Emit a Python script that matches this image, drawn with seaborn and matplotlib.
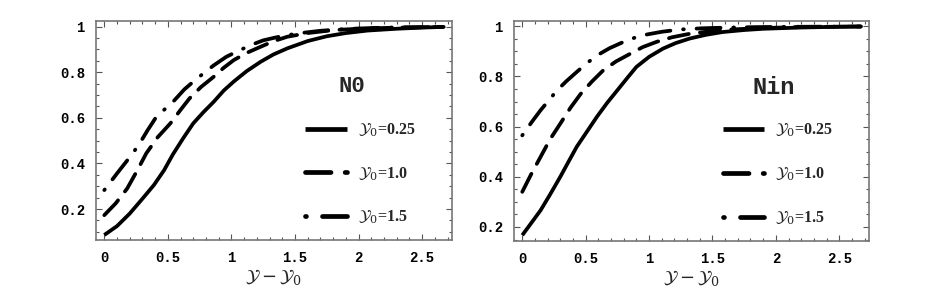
import numpy as np
import pandas as pd
import matplotlib
matplotlib.use('Agg')
import matplotlib.pyplot as plt
from matplotlib.ticker import MultipleLocator
import seaborn as sns

# ---------- data ----------
labels = ['$\\mathcal{Y}_0$=0.25', '$\\mathcal{Y}_0$=1.0', '$\\mathcal{Y}_0$=1.5']

# left panel: N0
n0_x_a = [0, 0.1, 0.2, 0.3, 0.39, 0.47, 0.54, 0.62, 0.70, 0.78, 0.86, 0.94, 1.02, 1.12, 1.23, 1.33, 1.44, 1.6, 1.75, 1.9, 2.07, 2.3, 2.5, 2.67]
n0_y_a = [0.086, 0.125, 0.18, 0.245, 0.305, 0.37, 0.44, 0.51, 0.576, 0.625, 0.67, 0.72, 0.76, 0.805, 0.846, 0.878, 0.905, 0.937, 0.958, 0.972, 0.983, 0.991, 0.996, 0.999]
n0_x_b = [0, 0.09, 0.18, 0.26, 0.33, 0.42, 0.52, 0.60, 0.67, 0.76, 0.86, 0.94, 1.02, 1.12, 1.23, 1.33, 1.44, 1.6, 1.8, 2.0, 2.3, 2.67]
n0_y_b = [0.173, 0.225, 0.29, 0.37, 0.444, 0.515, 0.576, 0.635, 0.685, 0.735, 0.78, 0.82, 0.854, 0.885, 0.912, 0.936, 0.956, 0.972, 0.985, 0.991, 0.996, 0.999]
n0_x_c = [0, 0.1, 0.19, 0.27, 0.34, 0.41, 0.54, 0.63, 0.73, 0.86, 0.96, 1.07, 1.16, 1.25, 1.35, 1.44, 1.56, 1.7, 1.9, 2.2, 2.67]
n0_y_c = [0.283, 0.356, 0.42, 0.48, 0.545, 0.605, 0.67, 0.725, 0.773, 0.83, 0.868, 0.898, 0.921, 0.94, 0.953, 0.963, 0.973, 0.982, 0.99, 0.996, 0.999]

# right panel: Nin
nin_x_a = [0, 0.07, 0.144, 0.22, 0.30, 0.37, 0.43, 0.51, 0.59, 0.67, 0.75, 0.83, 0.90, 1.0, 1.11, 1.21, 1.32, 1.45, 1.58, 1.75, 1.9, 2.2, 2.5, 2.67]
nin_y_a = [0.167, 0.215, 0.266, 0.33, 0.40, 0.465, 0.52, 0.58, 0.64, 0.695, 0.745, 0.795, 0.838, 0.878, 0.911, 0.933, 0.951, 0.966, 0.977, 0.985, 0.99, 0.995, 0.998, 0.999]
nin_x_b = [0, 0.07, 0.144, 0.22, 0.30, 0.38, 0.46, 0.55, 0.64, 0.74, 0.85, 0.95, 1.06, 1.18, 1.32, 1.48, 1.64, 1.9, 2.2, 2.67]
nin_y_b = [0.34, 0.41, 0.479, 0.55, 0.612, 0.675, 0.73, 0.78, 0.825, 0.86, 0.89, 0.917, 0.938, 0.956, 0.97, 0.98, 0.987, 0.993, 0.997, 0.999]
nin_x_c = [0, 0.07, 0.144, 0.21, 0.275, 0.35, 0.43, 0.51, 0.59, 0.69, 0.80, 0.89, 0.98, 1.1, 1.24, 1.42, 1.64, 1.9, 2.2, 2.67]
nin_y_c = [0.565, 0.615, 0.665, 0.705, 0.745, 0.782, 0.818, 0.853, 0.884, 0.913, 0.938, 0.955, 0.967, 0.978, 0.987, 0.992, 0.995, 0.997, 0.998, 0.999]

panels = [
    ('N0', [(n0_x_a, n0_y_a), (n0_x_b, n0_y_b), (n0_x_c, n0_y_c)]),
    ('Nin', [(nin_x_a, nin_y_a), (nin_x_b, nin_y_b), (nin_x_c, nin_y_c)]),
]

# ---------- style ----------
sns.set_style('white')
plt.rcParams['font.family'] = ['DejaVu Sans']
plt.rcParams['mathtext.fontset'] = 'dejavuserif'

dash_map = {labels[0]: '', labels[1]: (5.4, 3.0), labels[2]: (0.2, 3.4, 6.4, 3.4)}

fig = plt.figure(figsize=(9.26, 3.03), dpi=100)
axes_pos = [[0.1037, 0.2079, 0.3844, 0.7228], [0.5551, 0.2046, 0.3834, 0.7261]]
ylims = [(0.064, 1.025), (0.144, 1.021)]
ytks = [[0.2, 0.4, 0.6, 0.8, 1.0], [0.2, 0.4, 0.6, 0.8, 1.0]]
legend_anchor = [(0.57, 0.57), (0.57, 0.57)]
title_pos = [(0.719, 0.703), (0.73, 0.70)]
title_size = [16, 17]

for i, (name, series) in enumerate(panels):
    rows = []
    for lab, (xs, ys) in zip(labels, series):
        for x, y in zip(xs, ys):
            rows.append({'x': x, 'y': y, 'curve': lab})
    df = pd.DataFrame(rows)

    ax = fig.add_axes(axes_pos[i])
    sns.lineplot(data=df, x='x', y='y', style='curve', style_order=labels,
                 dashes=dash_map, color='black', linewidth=2.7, sort=False,
                 estimator=None, ax=ax)
    for ln in ax.get_lines():
        ln.set_dash_capstyle('round')
        ln.set_solid_capstyle('butt')

    ax.set_xlim(-0.065, 2.735)
    ax.set_ylim(*ylims[i])
    ax.xaxis.set_minor_locator(MultipleLocator(0.1))
    ax.yaxis.set_minor_locator(MultipleLocator(0.05))
    ax.set_xticks([0, 0.5, 1, 1.5, 2, 2.5])
    ax.set_xticklabels(['0', '0.5', '1', '1.5', '2', '2.5'])
    ax.set_yticks(ytks[i])
    ax.set_yticklabels(['0.2', '0.4', '0.6', '0.8', '1'])
    ax.tick_params(which='both', direction='in', top=True, right=True,
                   bottom=True, left=True, colors='#555555', width=0.8)
    ax.tick_params(which='major', length=4)
    ax.tick_params(which='minor', length=2)
    for lbl in ax.get_xticklabels() + ax.get_yticklabels():
        lbl.set_family('Liberation Mono')
        lbl.set_fontweight('bold')
        lbl.set_fontsize(10)
        lbl.set_color('black')
    ax.tick_params(axis='x', pad=8)
    ax.tick_params(axis='y', pad=8)
    for sp in ax.spines.values():
        sp.set_color('#777777')
        sp.set_linewidth(1.2)

    ax.set_xlabel('$\\mathcal{Y}-\\mathcal{Y}_0$', fontsize=13, labelpad=1)
    ax.set_ylabel('')

    ax.text(title_pos[i][0], title_pos[i][1], name, transform=ax.transAxes,
            fontsize=title_size[i], fontweight='bold', family='Liberation Mono',
            ha='center', va='center')

    leg = ax.legend(loc='upper left', bbox_to_anchor=legend_anchor[i],
                    frameon=False, handlelength=2.6, handletextpad=0.7,
                    labelspacing=1.65, borderaxespad=0,
                    prop={'family': 'Liberation Serif', 'weight': 'bold', 'size': 11.5})
    for h in leg.get_lines():
        h.set_linewidth(3.4)

fig.savefig('out.png', dpi=100)
